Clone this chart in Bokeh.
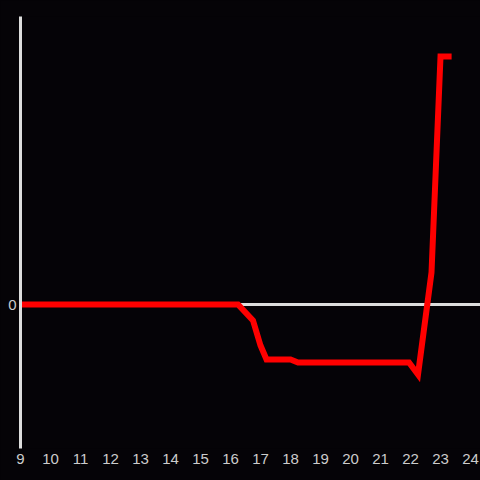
from bokeh.plotting import figure
from bokeh.models import Span, FixedTicker, Range1d, GlobalInlineStyleSheet
from bokeh.embed import file_html
from bokeh.resources import INLINE

# data (hour of day, value)
hours = [9.0, 16.25, 16.75, 17.0, 17.2, 18.0, 18.25, 21.95, 22.25, 22.7, 23.0, 23.37]
values = [0.0, 0.0, -4.0, -10.25, -13.75, -13.75, -14.5, -14.5, -17.5, 8.0, 62.0, 62.0]
x_ticks = list(range(9, 25))
y_ticks = [0]

BG = "#050307"
AX = "#dddddd"

p = figure(width=480, height=480, output_backend="svg", toolbar_location=None,
           x_range=Range1d(9, 24.333), y_range=Range1d(-36, 72),
           min_border_left=20, min_border_right=0, min_border_top=16, min_border_bottom=32,
           background_fill_color=BG, border_fill_color=BG, outline_line_color=None)
p.stylesheets = [GlobalInlineStyleSheet(css="body{background:%s;}" % BG)]

p.grid.visible = False

for ax in (p.xaxis, p.yaxis):
    ax.major_tick_line_color = None
    ax.minor_tick_line_color = None
    ax.major_tick_out = 0
    ax.major_tick_in = 0
    ax.minor_tick_out = 0
    ax.minor_tick_in = 0
    ax.major_label_text_color = "#cccccc"
    ax.major_label_text_font = "Liberation Sans"
    ax.major_label_text_font_size = "15px"

p.xaxis.ticker = FixedTicker(ticks=x_ticks)
p.xaxis.axis_line_color = None
p.xaxis.major_label_standoff = 5

p.yaxis.ticker = FixedTicker(ticks=y_ticks)
p.yaxis.axis_line_color = AX
p.yaxis.axis_line_width = 3
p.yaxis.major_label_standoff = 4

p.add_layout(Span(location=0, dimension="width", line_color=AX, line_width=3, level="underlay"))

p.line(hours, values, line_color="#ff0000", line_width=6, line_join="miter")

open("out.html", "w").write(file_html(p, INLINE))
